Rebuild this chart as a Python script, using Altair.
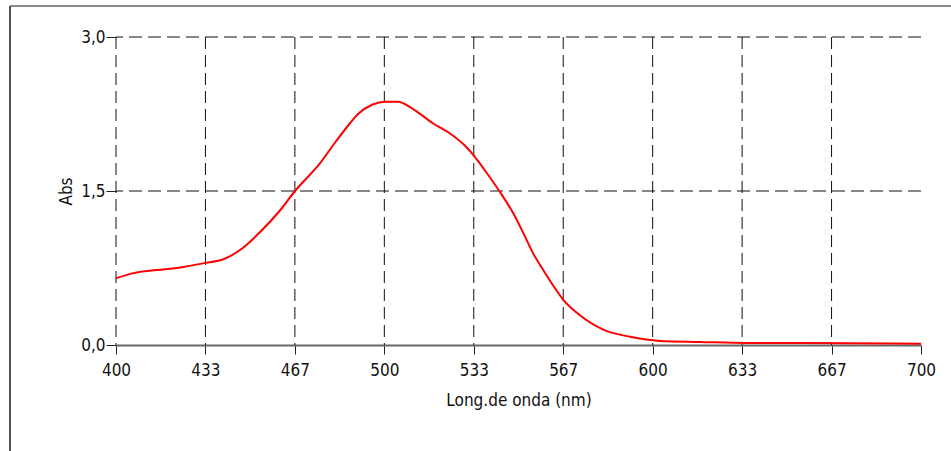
import altair as alt
import pandas as pd

# Spectrum
wavelength = [400.0, 406.5, 415.2, 425.1, 433.4, 440.0, 446.2, 453.7, 461.1,
              466.7, 476.0, 481.6, 487.2, 490.2, 495.4, 500.3, 505.1, 510.3, 518.1,
              524.5, 530.1, 533.8, 537.5, 543.1, 548.1, 551.8, 555.5, 559.2, 562.9,
              566.7, 572.9, 581.6, 591.6, 602.7, 617.6, 635.5, 654.9, 690.3, 700.0]
absorbance = [0.65, 0.70, 0.73, 0.76, 0.80, 0.835, 0.925, 1.10, 1.31,
              1.50, 1.77, 1.97, 2.16, 2.25, 2.34, 2.37, 2.37, 2.305, 2.16,
              2.06, 1.94, 1.83, 1.70, 1.49, 1.28, 1.09, 0.89, 0.73, 0.58,
              0.44, 0.29, 0.15, 0.08, 0.04, 0.03, 0.02, 0.02, 0.015, 0.012]

x_ticks = [400, 433.333, 466.667, 500, 533.333, 566.667, 600, 633.333, 666.667, 700]
x_grid = [400, 433.333, 466.667, 500, 533.333, 566.667, 600, 633.333, 666.667]
y_ticks = [0.0, 1.5, 3.0]
y_grid = [1.5, 3.0]

FONT = "Liberation Sans Narrow, Arial Narrow, DejaVu Sans Condensed, sans-serif"
W, H = 805, 308

spec = pd.DataFrame({"nm": wavelength, "abs": absorbance})

xscale = alt.Scale(domain=[400, 700], nice=False, zero=False)
yscale = alt.Scale(domain=[0, 3], nice=False)

xaxis = alt.Axis(
    values=x_ticks, labelExpr="format(datum.value, '.0f')", grid=False,
    labelFlush=False, labelOverlap=False,
    domainColor="#666666", domainWidth=2, tickColor="#222222", tickSize=9,
    labelFont=FONT, labelFontSize=17, labelColor="#111111", labelPadding=8,
    title="Long.de onda (nm)", titleFont=FONT, titleFontSize=17,
    titleFontWeight="normal", titleColor="#111111", titleY=55,
    titleBaseline="middle", zindex=0,
)
yaxis = alt.Axis(
    values=y_ticks, labelExpr="replace(format(datum.value, '.1f'), '.', ',')",
    grid=False, domain=False, tickColor="#222222", tickSize=10,
    labelFlush=False, labelOverlap=False,
    labelFont=FONT, labelFontSize=17, labelColor="#111111", labelPadding=1,
    title="Abs", titleFont=FONT, titleFontSize=17, titleFontWeight="normal",
    titleColor="#111111", titleX=-50, titleY=154, titleAngle=-90,
    titleAlign="center", titleBaseline="middle", zindex=0,
)

vgrid = alt.Chart(pd.DataFrame({"g": x_grid})).mark_rule(
    color="#111111", strokeWidth=1, strokeDash=[12, 6]
).encode(x=alt.X("g:Q", scale=xscale, axis=xaxis))

hgrid = alt.Chart(pd.DataFrame({"g": y_grid})).mark_rule(
    color="#111111", strokeWidth=1, strokeDash=[13, 6]
).encode(y=alt.Y("g:Q", scale=yscale, axis=yaxis))

frame_top = alt.Chart(alt.Data(values=[{}])).mark_rule(
    color="#8a8a8a", strokeWidth=2
).encode(x=alt.value(-106), x2=alt.value(835), y=alt.value(-31))

frame_left = alt.Chart(alt.Data(values=[{}])).mark_rule(
    color="#555555", strokeWidth=2
).encode(x=alt.value(-106), y=alt.value(-31), y2=alt.value(414))

line = alt.Chart(spec).mark_line(
    color="#ff0000", strokeWidth=2, interpolate="monotone"
).encode(
    x=alt.X("nm:Q", scale=xscale, axis=xaxis),
    y=alt.Y("abs:Q", scale=yscale, axis=yaxis),
)

chart = alt.layer(vgrid, hgrid, frame_top, frame_left, line).properties(
    width=W, height=H,
    autosize=alt.AutoSizeParams(type="none"),
    padding={"left": 116, "top": 37, "right": 30, "bottom": 106},
    background="white",
).configure_view(strokeWidth=0)

chart.save("out.html", embed_options={"renderer": "svg", "actions": False})
